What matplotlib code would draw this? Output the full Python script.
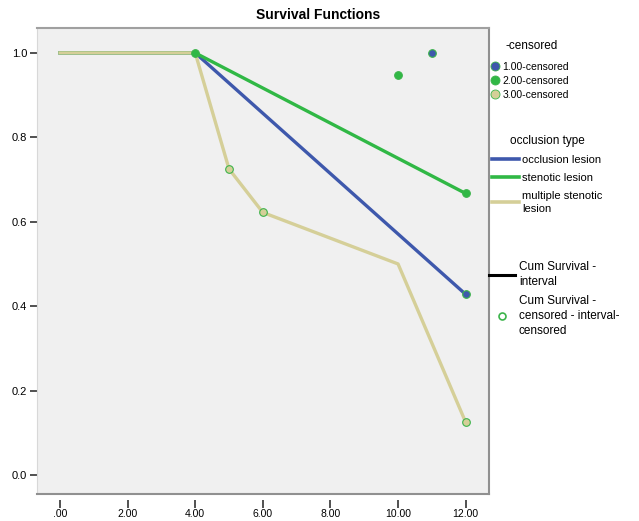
import matplotlib
matplotlib.use("Agg")
import matplotlib.pyplot as plt
from matplotlib.lines import Line2D

# survival curves (time, cum survival)
occl_t = [0, 4, 12]
occl_s = [1.0, 1.0, 0.428]
sten_t = [0, 4, 12]
sten_s = [1.0, 1.0, 0.667]
multi_t = [0, 4, 5, 6, 10, 12]
multi_s = [1.0, 1.0, 0.725, 0.622, 0.5, 0.125]

# censored points
cens_occl_t = [11, 12]
cens_occl_s = [1.0, 0.428]
cens_sten_t = [4, 10, 12]
cens_sten_s = [1.0, 0.948, 0.667]
cens_multi_t = [5, 6, 12]
cens_multi_s = [0.725, 0.622, 0.125]

xticks = [0, 2, 4, 6, 8, 10, 12]
xlabels = [".00", "2.00", "4.00", "6.00", "8.00", "10.00", "12.00"]
yticks = [0.0, 0.2, 0.4, 0.6, 0.8, 1.0]

blue = "#3E58AC"
green = "#30B845"
tan = "#D5CF98"
edge_green = "#3CB44B"

plt.rcParams['font.family'] = ['Liberation Sans', 'DejaVu Sans']

fig = plt.figure(figsize=(6.39, 5.21), dpi=100)
ax = fig.add_axes([37 / 639, 27 / 521, (489 - 37) / 639, (494 - 28) / 521])
ax.set_facecolor("#F0F0F0")

ax.plot(occl_t, occl_s, color=blue, lw=2.4, zorder=3)
ax.plot(sten_t, sten_s, color=green, lw=2.4, zorder=3)
ax.plot(multi_t, multi_s, color=tan, lw=2.4, zorder=4)

ax.plot(cens_occl_t, cens_occl_s, 'o', ms=5.5, mfc=blue, mec=edge_green, mew=0.8, zorder=5)
ax.plot(cens_sten_t, cens_sten_s, 'o', ms=5.5, mfc=green, mec=edge_green, mew=0.8, zorder=5)
ax.plot(cens_multi_t, cens_multi_s, 'o', ms=5.5, mfc=tan, mec=edge_green, mew=0.8, zorder=5)

ax.set_xlim(-0.68, 12.69)
ax.set_ylim(-0.045, 1.059)
ax.set_xticks(xticks)
ax.set_xticklabels(xlabels)
ax.set_yticks(yticks)
ax.set_yticklabels([f"{v:.1f}" for v in yticks])
ax.tick_params(axis='both', labelsize=7.5, color='#333333', width=1.2, length=5)
ax.tick_params(axis='y', labelsize=8, pad=2)
ax.tick_params(axis='x', length=6, pad=1)

ax.spines['bottom'].set_position(('outward', 4))
ax.spines['bottom'].set_color('none')
ax.spines['left'].set_color('#D8D8D8')
ax.spines['top'].set_color('#A0A0A0')
ax.spines['top'].set_linewidth(1.5)
ax.spines['right'].set_color('#909090')
ax.spines['right'].set_linewidth(1.5)
ax.plot([0, 1], [0, 0], transform=ax.transAxes, color='#909090', lw=1.5, clip_on=False, zorder=6)

fig.text(318 / 639, 1 - 15 / 521, "Survival Functions", ha='center', va='center',
         fontsize=10, fontweight='bold')

# legend: censored markers
h1 = [Line2D([], [], marker='o', ls='none', ms=6.5, mfc=c, mec=edge_green, mew=0.6)
      for c in (blue, green, tan)]
leg1 = fig.legend(h1, ["1.00-censored", "2.00-censored", "3.00-censored"],
                  title="-censored", loc='upper left', bbox_to_anchor=(489 / 639, 1 - 38 / 521),
                  frameon=False, fontsize=7.5, title_fontsize=8.5, handlelength=0.7,
                  handletextpad=0.4, labelspacing=0.4, borderaxespad=0, borderpad=0.2)
leg1._legend_box.align = "left"
leg1._legend_box.sep = 7
leg1.get_title().set_position((14, 0))

# legend: occlusion type
h2 = [Line2D([], [], color=c, lw=2.6) for c in (blue, green, tan)]
leg2 = fig.legend(h2, ["occlusion lesion", "stenotic lesion", "multiple stenotic\nlesion"],
                  title="occlusion type", loc='upper left', bbox_to_anchor=(490 / 639, 1 - 133 / 521),
                  frameon=False, fontsize=8, title_fontsize=8.5, handlelength=2.4,
                  handletextpad=0.3, labelspacing=0.7, borderaxespad=0, borderpad=0.2)
for t in leg2.get_texts():
    t.set_linespacing(1.45)

# legend: cum survival
h3 = [Line2D([], [], color='black', lw=2.2),
      Line2D([], [], marker='o', ls='none', ms=5, mfc='none', mec=edge_green, mew=1.2)]
leg3 = fig.legend(h3, ["Cum Survival -\ninterval", "Cum Survival -\ncensored - interval-\ncensored"],
                  loc='upper left', bbox_to_anchor=(487 / 639, 1 - 259 / 521),
                  frameon=False, fontsize=8.5, handlelength=2.2,
                  handletextpad=0.3, labelspacing=0.6, borderaxespad=0, borderpad=0.2)
for t in leg3.get_texts():
    t.set_linespacing(1.3)

fig.savefig("out.png", dpi=100)
